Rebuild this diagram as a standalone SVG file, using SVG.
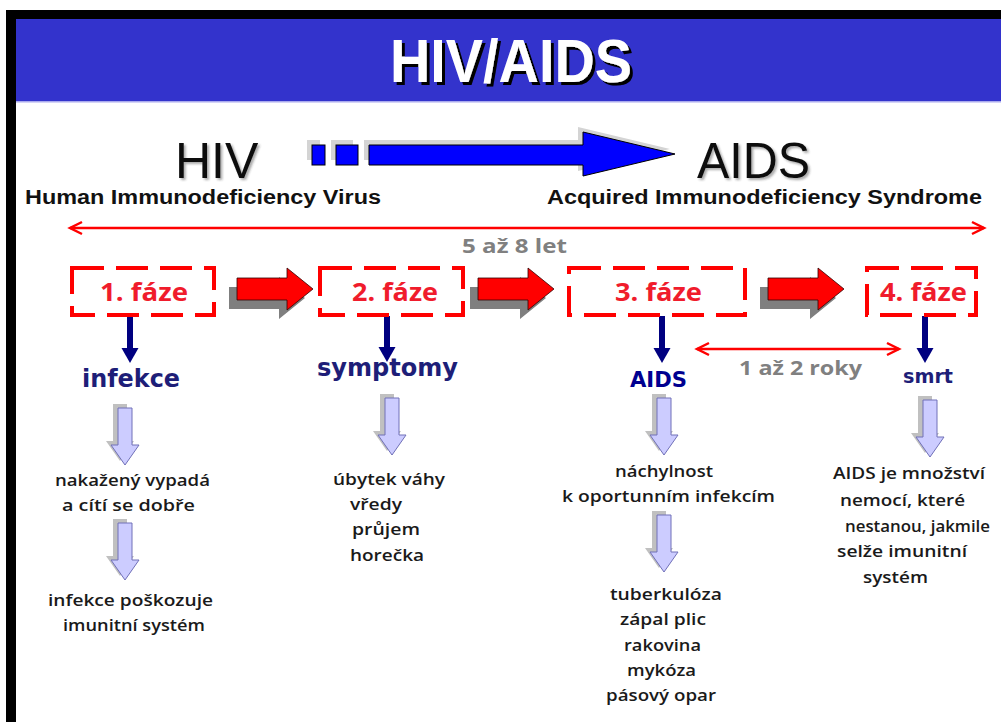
<svg xmlns="http://www.w3.org/2000/svg" width="1001" height="722" viewBox="0 0 1001 722">
<style>
.title{font-family:"Liberation Sans",Arial,sans-serif;font-weight:bold;font-size:62px}
.big{font-family:"Liberation Sans",Arial,sans-serif;font-size:50px;fill:#111}
.sub{font-family:"Liberation Sans",Arial,sans-serif;font-weight:bold;font-size:20px;fill:#111}
.gray{font-family:"Open Sans","DejaVu Sans",sans-serif;font-weight:bold;font-size:20px;fill:#808080}
.phase{font-family:"Open Sans","DejaVu Sans",sans-serif;font-weight:bold;font-size:25px;fill:#f01c2c}
.lbl{font-family:"DejaVu Sans","Liberation Sans",sans-serif;font-weight:bold;fill:#1e1e78}
.body{font-family:"Open Sans","Liberation Sans",sans-serif;font-weight:600;font-size:16.5px;fill:#1a1a1a}
.box{fill:none;stroke:#ff0000;stroke-width:4;stroke-dasharray:32 12}
.thin{stroke:#ff0000;stroke-width:2.5;fill:none}
.navy{stroke:#000080;stroke-width:6}
.lav{fill:#ccccff;stroke:#7070b8;stroke-width:1}
.lavsh{fill:#8c8c8c;opacity:0.55}
.red{fill:#ff0000;stroke:#300;stroke-width:0.8}
.redsh{fill:#7f7f7f}
</style>
<defs>
<filter id="titleShadow" x="-10%" y="-20%" width="120%" height="140%">
<feDropShadow dx="3" dy="3" stdDeviation="0.6" flood-color="#000" flood-opacity="1"/>
</filter>
<filter id="softShadow" x="-10%" y="-20%" width="120%" height="140%">
<feDropShadow dx="2" dy="2" stdDeviation="1" flood-color="#333" flood-opacity="0.4"/>
</filter>
<path id="redArrow" d="M0,-11 H50 V-21 L76,0 L50,21 V11 H0 Z"/>
<path id="lavArrow" d="M-7,0 H7 V37 H14 L0,57 L-14,37 H-7 Z"/>
<marker id="openHead" markerUnits="userSpaceOnUse" markerWidth="16" markerHeight="16" refX="13" refY="8" orient="auto-start-reverse">
<path d="M1,2 L13,8 L1,14" fill="none" stroke="#ff0000" stroke-width="2.5"/>
</marker>
<marker id="navyHead" markerUnits="userSpaceOnUse" markerWidth="20" markerHeight="20" refX="2" refY="10" orient="auto">
<path d="M0,1.5 L15,10 L0,18.5 Z" fill="#000080"/>
</marker>
</defs>

<rect x="0" y="0" width="1001" height="722" fill="#ffffff"/>
<g id="frame">
<rect x="6" y="10" width="995" height="9" fill="#000"/>
<rect x="6" y="10" width="10" height="712" fill="#000"/>
<rect x="16" y="19" width="985" height="83" fill="#3333cc"/>
<rect x="16" y="101" width="985" height="1.5" fill="#aaaaee"/>
</g>

<g id="title">
<text class="title" x="511" y="82" text-anchor="middle" textLength="242" lengthAdjust="spacingAndGlyphs" fill="#fff" filter="url(#titleShadow)">HIV/AIDS</text>
</g>

<g id="hiv">
<text class="big" x="175" y="178" filter="url(#softShadow)">HIV</text>
<text class="sub" x="25" y="204" textLength="356" lengthAdjust="spacingAndGlyphs">Human Immunodeficiency Virus</text>
</g>

<g id="aids">
<text class="big" x="697" y="178" textLength="113" lengthAdjust="spacingAndGlyphs" filter="url(#softShadow)">AIDS</text>
<text class="sub" x="547" y="204" textLength="435" lengthAdjust="spacingAndGlyphs">Acquired Immunodeficiency Syndrome</text>
</g>

<g id="connectors">
<!-- blue progression arrow -->
<g transform="translate(-5,-5)" fill="#d4d4d4">
<rect x="312" y="145" width="13" height="20"/>
<rect x="336" y="145" width="22" height="20"/>
<polygon points="369,145 583,145 583,132 675,154 583,176 583,165 369,165"/>
</g>
<g fill="#0000ff" stroke="#000" stroke-width="1">
<rect x="312" y="145" width="13" height="20"/>
<rect x="336" y="145" width="22" height="20"/>
<polygon points="369,145 583,145 583,132 675,154 583,176 583,165 369,165"/>
</g>

<!-- timeline double arrows -->
<line class="thin" x1="70" y1="228" x2="984" y2="228" marker-start="url(#openHead)" marker-end="url(#openHead)"/>
<line class="thin" x1="697" y1="349" x2="899" y2="349" marker-start="url(#openHead)" marker-end="url(#openHead)"/>

<!-- red block arrows between phases -->
<use href="#redArrow" class="redsh" transform="translate(229,298)"/>
<use href="#redArrow" class="red" transform="translate(237,289)"/>
<use href="#redArrow" class="redsh" transform="translate(470,298)"/>
<use href="#redArrow" class="red" transform="translate(478,289)"/>
<use href="#redArrow" class="redsh" transform="translate(760,298)"/>
<use href="#redArrow" class="red" transform="translate(768,289)"/>

<!-- navy down arrows -->
<line class="navy" x1="130" y1="316" x2="130" y2="350" marker-end="url(#navyHead)"/>
<line class="navy" x1="387" y1="316" x2="387" y2="349" marker-end="url(#navyHead)"/>
<line class="navy" x1="662" y1="316" x2="662" y2="350" marker-end="url(#navyHead)"/>
<line class="navy" x1="925" y1="316" x2="925" y2="350" marker-end="url(#navyHead)"/>

<!-- lavender down arrows -->
<use href="#lavArrow" class="lavsh" transform="translate(120,404)"/>
<use href="#lavArrow" class="lav" transform="translate(125,408)"/>
<use href="#lavArrow" class="lavsh" transform="translate(120,519)"/>
<use href="#lavArrow" class="lav" transform="translate(125,523)"/>
<use href="#lavArrow" class="lavsh" transform="translate(387,394)"/>
<use href="#lavArrow" class="lav" transform="translate(392,398)"/>
<use href="#lavArrow" class="lavsh" transform="translate(659,394)"/>
<use href="#lavArrow" class="lav" transform="translate(664,398)"/>
<use href="#lavArrow" class="lavsh" transform="translate(659,511)"/>
<use href="#lavArrow" class="lav" transform="translate(664,515)"/>
<use href="#lavArrow" class="lavsh" transform="translate(925,396)"/>
<use href="#lavArrow" class="lav" transform="translate(930,400)"/>
</g>

<g id="duration-5-8">
<text class="gray" x="462" y="253" textLength="105" lengthAdjust="spacingAndGlyphs">5 až 8 let</text>
</g>
<g id="duration-1-2">
<text class="gray" x="739" y="375" textLength="123" lengthAdjust="spacingAndGlyphs">1 až 2 roky</text>
</g>

<g id="phase1">
<rect class="box" x="72" y="268" width="142" height="47"/>
<text class="phase" x="100" y="301" textLength="88" lengthAdjust="spacingAndGlyphs">1. fáze</text>
</g>
<g id="phase2">
<rect class="box" x="320" y="268" width="143" height="47"/>
<text class="phase" x="352" y="301" textLength="86" lengthAdjust="spacingAndGlyphs">2. fáze</text>
</g>
<g id="phase3">
<rect class="box" x="569" y="268" width="176" height="47"/>
<text class="phase" x="615" y="301" textLength="87" lengthAdjust="spacingAndGlyphs">3. fáze</text>
</g>
<g id="phase4">
<rect class="box" x="867" y="268" width="109" height="47"/>
<text class="phase" x="880" y="301" textLength="87" lengthAdjust="spacingAndGlyphs">4. fáze</text>
</g>

<g id="infekce">
<text class="lbl" x="82" y="387" font-size="24" textLength="98" lengthAdjust="spacingAndGlyphs">infekce</text>
</g>
<g id="symptomy">
<text class="lbl" x="317" y="376" font-size="24" textLength="141" lengthAdjust="spacingAndGlyphs">symptomy</text>
</g>
<g id="aids-label">
<text class="lbl" x="630" y="387" font-size="21" style="fill:#000090" textLength="57" lengthAdjust="spacingAndGlyphs">AIDS</text>
</g>
<g id="smrt">
<text class="lbl" x="903" y="383" font-size="19" textLength="50" lengthAdjust="spacingAndGlyphs">smrt</text>
</g>

<g id="text-phase1">
<text class="body" x="55" y="486" textLength="155" lengthAdjust="spacingAndGlyphs">nakažený vypadá</text>
<text class="body" x="62" y="511" textLength="133" lengthAdjust="spacingAndGlyphs">a cítí se dobře</text>
<text class="body" x="48" y="606" textLength="165" lengthAdjust="spacingAndGlyphs">infekce poškozuje</text>
<text class="body" x="63" y="631" textLength="142" lengthAdjust="spacingAndGlyphs">imunitní systém</text>
</g>

<g id="text-phase2">
<text class="body" x="333" y="485" textLength="112" lengthAdjust="spacingAndGlyphs">úbytek váhy</text>
<text class="body" x="350" y="510" textLength="52" lengthAdjust="spacingAndGlyphs">vředy</text>
<text class="body" x="352" y="535" textLength="68" lengthAdjust="spacingAndGlyphs">průjem</text>
<text class="body" x="350" y="561" textLength="74" lengthAdjust="spacingAndGlyphs">horečka</text>
</g>

<g id="text-phase3">
<text class="body" x="615" y="477" textLength="98" lengthAdjust="spacingAndGlyphs">náchylnost</text>
<text class="body" x="562" y="502" textLength="213" lengthAdjust="spacingAndGlyphs">k oportunním infekcím</text>
<text class="body" x="610" y="600" textLength="112" lengthAdjust="spacingAndGlyphs">tuberkulóza</text>
<text class="body" x="620" y="625" textLength="86" lengthAdjust="spacingAndGlyphs">zápal plic</text>
<text class="body" x="624" y="651" textLength="77" lengthAdjust="spacingAndGlyphs">rakovina</text>
<text class="body" x="627" y="676" textLength="69" lengthAdjust="spacingAndGlyphs">mykóza</text>
<text class="body" x="606" y="701" textLength="110" lengthAdjust="spacingAndGlyphs">pásový opar</text>
</g>

<g id="text-phase4">
<text class="body" x="833" y="479" textLength="152" lengthAdjust="spacingAndGlyphs">AIDS je množství</text>
<text class="body" x="840" y="506" textLength="125" lengthAdjust="spacingAndGlyphs">nemocí, které</text>
<text class="body" x="845" y="532" textLength="145" lengthAdjust="spacingAndGlyphs">nestanou, jakmile</text>
<text class="body" x="837" y="557" textLength="130" lengthAdjust="spacingAndGlyphs">selže imunitní</text>
<text class="body" x="863" y="583" textLength="65" lengthAdjust="spacingAndGlyphs">systém</text>
</g>
</svg>
